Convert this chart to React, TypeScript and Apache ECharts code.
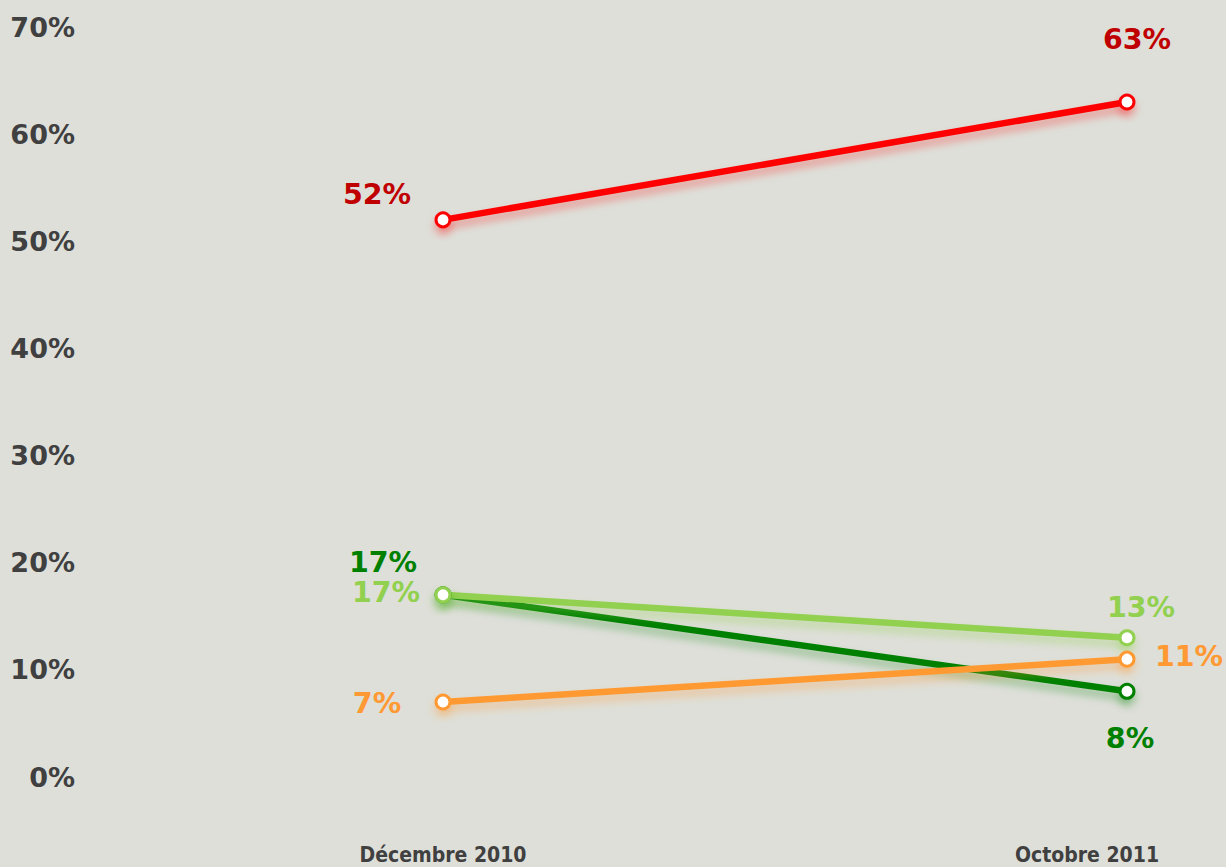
import React, { useEffect, useRef } from "react";
import * as echarts from "echarts";

const categories = ["Décembre 2010", "Octobre 2011"];
const redValues = [52, 63];
const darkGreenValues = [17, 8];
const lightGreenValues = [17, 13];
const orangeValues = [7, 11];
const yTicks = [0, 10, 20, 30, 40, 50, 60, 70];

const FONT = "'DejaVu Sans', Verdana, sans-serif";

function makeSeries(
  name: string,
  values: number[],
  lineColor: string,
  labelColor: string,
  offsets: number[][],
  shadow: string
) {
  return {
    name,
    type: "line",
    data: values.map((v, i) => ({
      value: v,
      label: { offset: offsets[i] },
    })),
    symbol: "circle",
    symbolSize: 14,
    lineStyle: {
      color: lineColor,
      width: 6.5,
      shadowColor: shadow,
      shadowBlur: 8,
      shadowOffsetY: 6,
    },
    itemStyle: {
      color: "#ffffff",
      borderColor: lineColor,
      borderWidth: 3,
      shadowColor: shadow,
      shadowBlur: 8,
      shadowOffsetY: 6,
    },
    label: {
      show: true,
      position: "inside",
      formatter: "{c}%",
      color: labelColor,
      fontFamily: FONT,
      fontWeight: "bold",
      fontSize: 28.5,
      lineHeight: 24,
    },
  };
}

export default function App() {
  const ref = useRef<HTMLDivElement>(null);
  useEffect(() => {
    if (!ref.current) return;
    const chart = echarts.init(ref.current, undefined, { renderer: "svg" });
    const catStyle = {
      fontFamily: "'DejaVu Sans Condensed', 'DejaVu Sans', sans-serif",
      fontWeight: "bold",
      fontSize: 21,
      color: "#404040",
    };
    chart.setOption({
      animation: false,
      backgroundColor: "#DEDFD9",
      grid: { left: 443, right: 99, top: 27, bottom: 90, containLabel: false },
      xAxis: {
        type: "category",
        data: categories,
        boundaryGap: false,
        axisLine: { show: false },
        axisTick: { show: false },
        splitLine: { show: false },
        axisLabel: {
          margin: 67,
          formatter: (v: string, i: number) => (i === 0 ? `{a|${v}}` : `{b|${v}}`),
          rich: {
            a: { ...catStyle },
            b: { ...catStyle, padding: [0, 80, 0, 0] },
          },
        },
      },
      yAxis: {
        type: "value",
        min: yTicks[0],
        max: yTicks[yTicks.length - 1],
        interval: 10,
        axisLine: { show: false },
        axisTick: { show: false },
        splitLine: { show: false },
        axisLabel: {
          formatter: "{value}%",
          margin: 368,
          align: "right",
          color: "#404040",
          fontFamily: FONT,
          fontWeight: "bold",
          fontSize: 27,
        },
      },
      series: [
        makeSeries("darkgreen", darkGreenValues, "#008000", "#008000", [[-60, -32], [3, 47]], "rgba(0,128,0,0.35)"),
        makeSeries("lightgreen", lightGreenValues, "#92D050", "#92D050", [[-57, -2], [14, -30]], "rgba(146,208,80,0.45)"),
        makeSeries("orange", orangeValues, "#FF9933", "#FF9933", [[-66, 1], [62, -3]], "rgba(255,153,51,0.4)"),
        makeSeries("red", redValues, "#FF0000", "#C00000", [[-66, -25], [10, -63]], "rgba(255,0,0,0.35)"),
      ],
    });
    return () => chart.dispose();
  }, []);
  return (
    <div
      ref={ref}
      style={{ position: "fixed", left: 0, top: 0, width: 1226, height: 867 }}
    />
  );
}
